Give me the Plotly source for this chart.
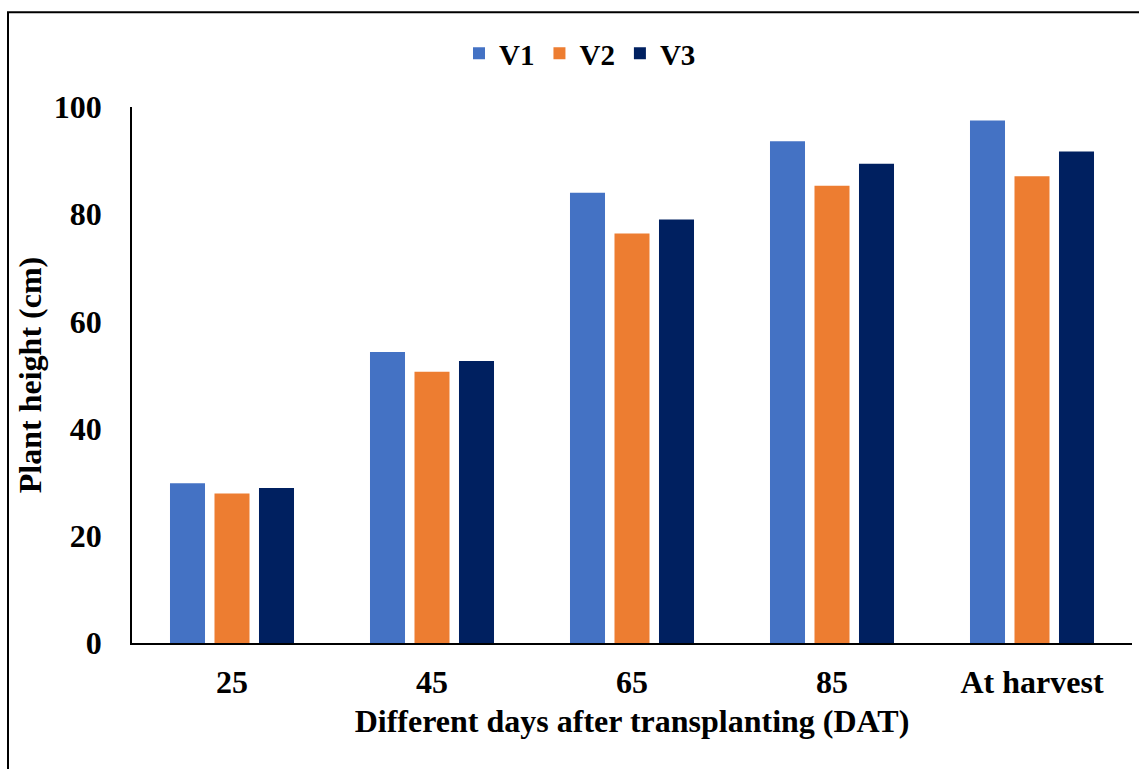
import plotly.graph_objects as go

# Plant height (cm) at different days after transplanting
categories = ["25", "45", "65", "85", "At harvest"]
v1 = [29.8, 54.3, 84.0, 93.6, 97.5]
v2 = [27.9, 50.6, 76.4, 85.3, 87.1]
v3 = [28.9, 52.6, 79.0, 89.4, 91.7]

series = [("V1", v1, "#4472C4"), ("V2", v2, "#ED7D31"), ("V3", v3, "#002060")]

FONT = "Liberation Serif"

fig = go.Figure()
for name, vals, color in series:
    fig.add_trace(go.Bar(
        x=categories, y=vals, name=name,
        marker=dict(color=color, line=dict(width=0)),
    ))

fig.update_layout(
    width=1139, height=769,
    margin=dict(l=132, r=7, t=107, b=126),
    paper_bgcolor="white", plot_bgcolor="white",
    barmode="group", bargap=0.3325, bargroupgap=0.213,
    font=dict(family=FONT, size=32, color="black"),
    showlegend=True,
    legend=dict(
        orientation="h", x=0.448, xanchor="center", y=1.10, yanchor="middle",
        font=dict(family=FONT, size=29, color="black", weight="bold"),
        itemwidth=30, traceorder="normal",
    ),
)

fig.update_xaxes(
    type="category", range=[-0.5, 4.5],
    showline=True, linecolor="black", linewidth=2,
    showgrid=False, ticks="", ticklabelstandoff=10,
    tickfont=dict(family=FONT, size=32, color="black", weight="bold"),
    title=dict(text="Different days after transplanting (DAT)",
               font=dict(family=FONT, size=32, color="black", weight="bold"),
               standoff=10),
)
fig.update_yaxes(
    range=[0, 100], tickvals=[0, 20, 40, 60, 80, 100],
    showline=True, linecolor="black", linewidth=1.5,
    showgrid=False, zeroline=False, ticks="", ticklabelstandoff=22,
    tickfont=dict(family=FONT, size=32, color="black", weight="bold"),
    title=dict(text="Plant height (cm)",
               font=dict(family=FONT, size=32, color="black", weight="bold"),
               standoff=3),
)

# frame around the chart (left and top edges visible)
fig.add_shape(type="rect", xref="paper", yref="paper",
              x0=-0.124, x1=1.2, y0=-0.5, y1=1.177,
              line=dict(color="black", width=2), fillcolor="rgba(0,0,0,0)",
              layer="above")

fig.write_html("out.html")
